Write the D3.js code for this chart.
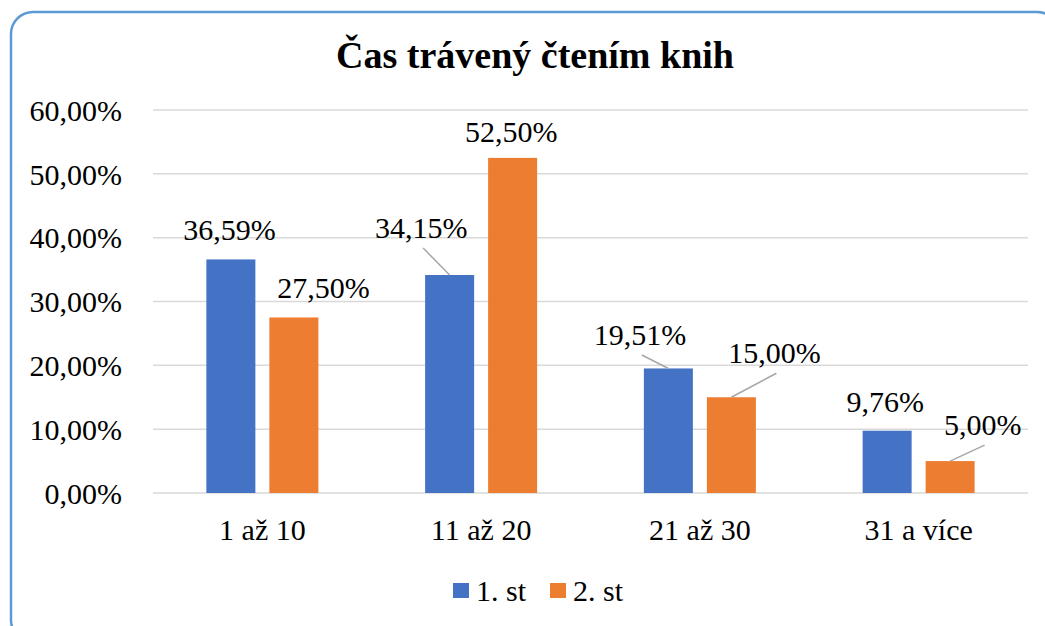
<html>
<head>
<meta charset="utf-8">
<script src="https://cdn.jsdelivr.net/npm/d3@7"></script>
</head>
<body style="margin:0;padding:0;background:#fff">
<script>
// ---- data ----
const title = "Čas trávený čtením knih";
const categories = ["1 až 10", "11 až 20", "21 až 30", "31 a více"];
const seriesNames = ["1. st", "2. st"];
const values1 = [36.59, 34.15, 19.51, 9.76];
const values2 = [27.50, 52.50, 15.00, 5.00];
const yTicks = [0, 10, 20, 30, 40, 50, 60];
const colors = ["#4472c4", "#ed7d31"];

// label placement offsets (px) relative to bar top-centre: [dx, dy(baseline)]
const labelOffsets1 = [[-1.5, -19.5], [-28.5, -37], [-28.5, -23.5], [-2, -19]];
const labelOffsets2 = [[29.5, -19.5], [-1.5, -16], [43, -34], [32.5, -26]];
const leader1 = [false, true, true, false];
const leader2 = [false, false, true, true];

const W = 1045, H = 626;
const FONT = "Liberation Serif";
const fmt = v => v.toFixed(2).replace(".", ",") + "%";

const svg = d3.select("body").append("svg").attr("width", W).attr("height", H)
  .style("display", "block").attr("font-family", FONT);

// chart border
svg.append("rect")
  .attr("x", 11).attr("y", 12).attr("width", 1048).attr("height", 630)
  .attr("rx", 22).attr("ry", 22)
  .attr("fill", "#fff").attr("stroke", "#5b9bd5").attr("stroke-width", 2.5);

// title
svg.append("text")
  .attr("x", 535).attr("y", 67.5)
  .attr("text-anchor", "middle")
  .style("font-family", FONT)
  .style("font-size", "38px").style("font-weight", "bold")
  .attr("fill", "#000")
  .text(title);

const plot = { left: 153, right: 1028, top: 110, bottom: 493 };

const y = d3.scaleLinear().domain([0, 60]).range([plot.bottom, plot.top]);
const x0 = d3.scaleBand().domain(categories).range([plot.left, plot.right]).padding(0);
const x1 = d3.scaleBand().domain(seriesNames).range([-56, 56]).paddingInner(14 / 63).paddingOuter(0);

// gridlines
svg.append("g").selectAll("line").data(yTicks).join("line")
  .attr("x1", plot.left).attr("x2", plot.right)
  .attr("y1", d => y(d)).attr("y2", d => y(d))
  .attr("stroke", "#d9d9d9").attr("stroke-width", 1.5);

// y axis labels via d3 axis
const yAxis = svg.append("g")
  .attr("transform", `translate(${plot.left},0)`)
  .call(d3.axisLeft(y).tickValues(yTicks).tickFormat(fmt).tickSize(0).tickPadding(31));
yAxis.attr("font-family", FONT).attr("font-size", 30);
yAxis.select(".domain").remove();
yAxis.selectAll("text")
  .style("font-size", "30px").style("font-family", FONT)
  .attr("fill", "#000").attr("dy", "0.34em");

// x axis labels
const xAxis = svg.append("g")
  .attr("transform", `translate(0,${plot.bottom})`)
  .call(d3.axisBottom(x0).tickSize(0).tickPadding(26));
xAxis.attr("font-family", FONT).attr("font-size", 30);
xAxis.select(".domain").remove();
xAxis.selectAll("text")
  .style("font-size", "30px").style("font-family", FONT)
  .attr("fill", "#000").attr("dy", "0.71em");

// bars
const allSeries = [values1, values2];
const allOffsets = [labelOffsets1, labelOffsets2];
const allLeaders = [leader1, leader2];

allSeries.forEach((vals, si) => {
  const name = seriesNames[si];
  const g = svg.append("g");
  const data = categories.map((c, i) => ({ c, v: vals[i], i }));
  g.selectAll("rect").data(data).join("rect")
    .attr("x", d => x0(d.c) + x0.bandwidth() / 2 + x1(name))
    .attr("y", d => y(d.v))
    .attr("width", x1.bandwidth())
    .attr("height", d => y(0) - y(d.v))
    .attr("fill", colors[si]);

  const cx = d => x0(d.c) + x0.bandwidth() / 2 + x1(name) + x1.bandwidth() / 2;

  // leader lines
  g.selectAll("line").data(data.filter(d => allLeaders[si][d.i])).join("line")
    .attr("x1", d => cx(d)).attr("y1", d => y(d.v))
    .attr("x2", d => cx(d) + allOffsets[si][d.i][0] + 2)
    .attr("y2", d => y(d.v) + allOffsets[si][d.i][1] + 10)
    .attr("stroke", "#a6a6a6").attr("stroke-width", 1.5);

  g.selectAll("text").data(data).join("text")
    .attr("x", d => cx(d) + allOffsets[si][d.i][0])
    .attr("y", d => y(d.v) + allOffsets[si][d.i][1])
    .attr("text-anchor", "middle")
    .style("font-family", FONT)
    .style("font-size", "30px")
    .attr("fill", "#000")
    .text(d => fmt(d.v));
});

// legend
const legend = svg.append("g");
const legendItems = [
  { name: seriesNames[0], color: colors[0], x: 453 },
  { name: seriesNames[1], color: colors[1], x: 550 }
];
legendItems.forEach(it => {
  legend.append("rect").attr("x", it.x).attr("y", 583).attr("width", 16).attr("height", 15).attr("fill", it.color);
  legend.append("text").attr("x", it.x + 23).attr("y", 601)
    .style("font-family", FONT).style("font-size", "30px").attr("fill", "#000").text(it.name);
});
</script>
</body>
</html>
